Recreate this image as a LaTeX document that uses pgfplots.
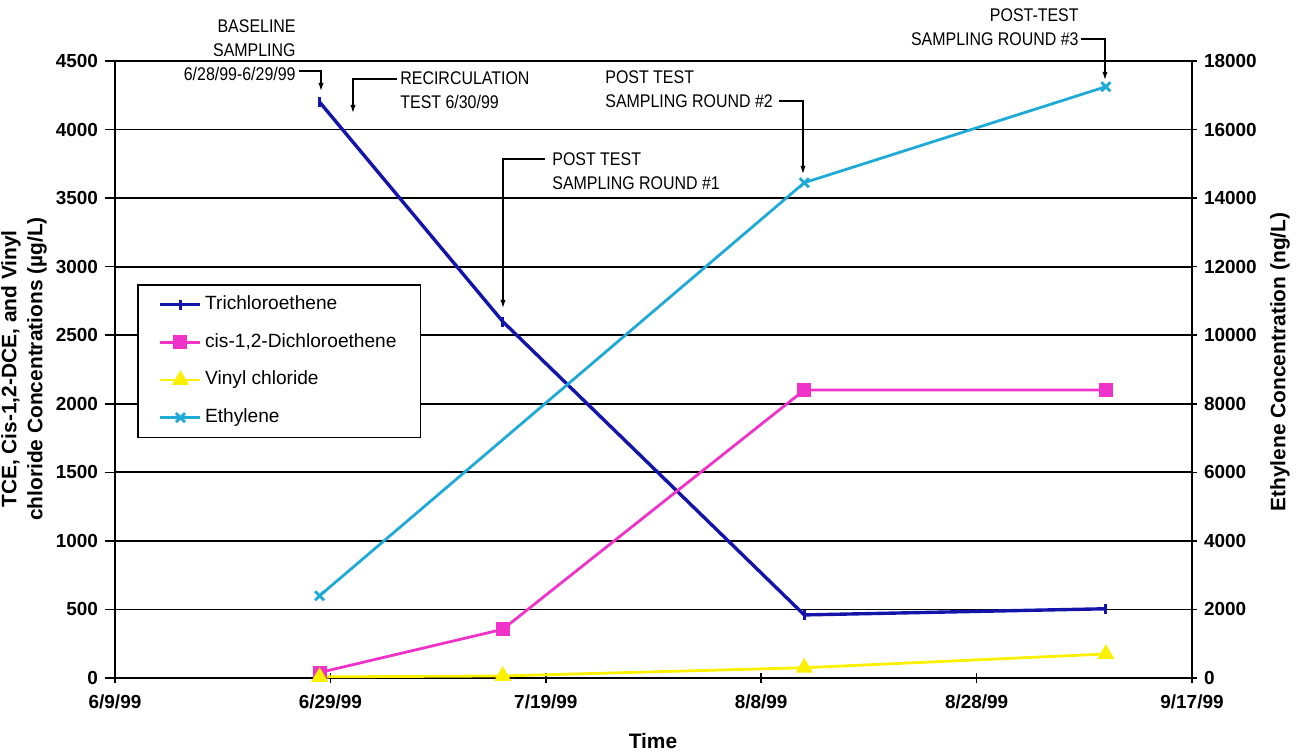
\documentclass[border=0pt]{standalone}
\usepackage{fontspec}
\setmainfont{Liberation Sans}
\newfontfamily\narrowfont[FakeStretch=0.87]{Liberation Sans}
\usepackage{pgfplots}
\pgfplotsset{compat=1.18}
\usetikzlibrary{arrows.meta}
\definecolor{tce}{RGB}{20,20,170}
\definecolor{dce}{RGB}{240,50,200}
\definecolor{vc}{RGB}{250,240,0}
\definecolor{eth}{RGB}{30,170,215}
\begin{document}
\begin{tikzpicture}
\useasboundingbox (0,0) rectangle (650.5bp,376.5bp);
\pgfplotsset{
  common/.style={
    at={(57.5bp,37.5bp)}, anchor=south west,
    scale only axis, width=538.5bp, height=308.5bp,
    xmin=0, xmax=100,
    clip=false,
    axis line style={-, line width=0.9pt, black},
    tick style={line width=0.8pt, black},
    major tick length=5bp,
    tick label style={font=\fontsize{9.5}{11}\selectfont\bfseries},
    scaled y ticks=false,
    /pgf/number format/.cd, 1000 sep={}, assume math mode=true,
  }
}
\begin{axis}[common,
  ymin=0, ymax=4500,
  xtick={0,20,40,60,80,100},
  xticklabels={6/9/99,6/29/99,7/19/99,8/8/99,8/28/99,9/17/99},
  ytick={0,500,...,4500},
  axis y line*=left, axis x line*=bottom,
  tick align=outside,
  x tick style={yshift=2.5bp},
  ymajorgrids, grid style={black, line width=0.9pt},
  legend style={at={(0.0204,0.6386)}, anchor=north west,
    draw=black, line width=0.8pt, fill=white,
    inner xsep=10.5bp, inner ysep=4bp,
    font=\fontsize{9.6}{11}\selectfont,
    nodes={text height=7bp, text depth=2bp, inner sep=1.5bp, anchor=west},
    row sep=6.8bp},
  legend cell align=left,
  legend image code/.code={\draw[mark repeat=2,mark phase=2,#1] plot coordinates {(0bp,0bp) (10bp,0bp) (20bp,0bp)};},
]
\addplot[tce, line width=1.7pt, mark=|, mark size=2.5bp, mark options={line width=1.4pt}]
  coordinates {(19,4200) (36,2600) (64,460) (92,505)};
\addlegendentry{Trichloroethene}
\addplot[dce, line width=1.4pt, mark=square*, mark size=2.8bp, mark options={solid}]
  coordinates {(19,40) (36,355) (64,2100) (92,2100)};
\addlegendentry{cis-1,2-Dichloroethene}
\addplot[vc, line width=1.4pt, mark=triangle*, mark size=3.5bp, mark options={solid}]
  coordinates {(19,8) (36,15) (64,75) (92,175)};
\addlegendentry{Vinyl chloride}
\addlegendimage{eth, line width=1.4pt, mark=x, mark size=3.2bp}
\addlegendentry{Ethylene}
\end{axis}
\begin{axis}[common,
  ymin=0, ymax=18000,
  ytick={0,2000,...,18000},
  axis y line*=right, axis x line=none,
  tick align=center,
]
\addplot[eth, line width=1.4pt, mark=x, mark size=3.2bp, mark options={line width=1.4pt}]
  coordinates {(19,2400) (64,14450) (92,17250)};
\end{axis}
\begin{scope}[x=0.5bp,y=-0.5bp,shift={(0,376.5bp)}]
  \tikzset{ann/.style={font=\narrowfont\fontsize{9.2}{12}\selectfont, inner sep=0pt},
           arr/.style={line width=0.6pt, -{Latex[length=4bp,width=2.6bp]}}}
  \node[ann, anchor=east, align=right] at (296,50) {BASELINE\\SAMPLING\\6/28/99-6/29/99};
  \draw[arr] (299,71) -| (321,91);
  \node[ann, anchor=west, align=left] at (400,90.5) {RECIRCULATION\\TEST 6/30/99};
  \draw[arr] (397,79) -| (353,113);
  \node[ann, anchor=west, align=left] at (552,171.5) {POST TEST\\SAMPLING ROUND \#1};
  \draw[arr] (545,159) -| (503,308);
  \node[ann, anchor=west, align=left] at (605,89.5) {POST TEST\\SAMPLING ROUND \#2};
  \draw[arr] (779,101) -| (803,174);
  \node[ann, anchor=east, align=right] at (1079,27) {POST-TEST\\SAMPLING ROUND \#3};
  \draw[arr] (1081,39) -| (1105,80);
  \node[font=\fontsize{10.5}{13}\selectfont\bfseries, rotate=90, align=center] at (24,369)
    {TCE, Cis-1,2-DCE, and Vinyl\\chloride Concentrations (µg/L)};
  \node[font=\fontsize{10.5}{13}\selectfont\bfseries, rotate=90] at (1280,362)
    {Ethylene Concentration (ng/L)};
  \node[font=\fontsize{10.5}{13}\selectfont\bfseries] at (653,741) {Time};
\end{scope}
\end{tikzpicture}
\end{document}
